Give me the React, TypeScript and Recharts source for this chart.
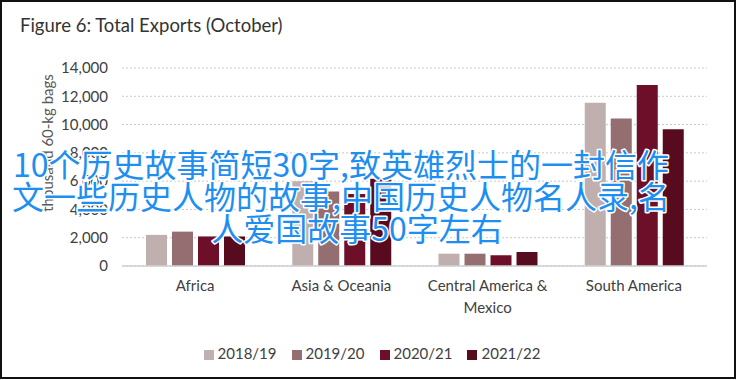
import React from 'react';
import { BarChart, Bar, XAxis, YAxis, CartesianGrid, Legend, Text } from 'recharts';

const categories = ['Africa', 'Asia & Oceania', 'Central America & Mexico', 'South America'];
const seriesNames = ['2018/19', '2019/20', '2020/21', '2021/22'];
const s1819 = [2200, 6000, 870, 11550];
const s1920 = [2430, 5270, 870, 10430];
const s2021 = [2090, 5090, 760, 12790];
const s2122 = [2090, 6170, 990, 9670];
const yTicks = [0, 2000, 4000, 6000, 8000, 10000, 12000, 14000];
const titleText = 'Figure 6: Total Exports (October)';
const yLabelText = 'thousand 60-kg bags';
const overlayLines = [
  '10个历史故事简短30字,致英雄烈士的一封信作',
  '文一些历史人物的故事,中国历史人物名人录,名',
  '人爱国故事50字左右',
];

const colors = ['#BFAFAF', '#946E70', '#6D0F29', '#580B1F'];
const seriesValues = [s1819, s1920, s2021, s2122];

const data = categories.map((c, i) => {
  const row: any = { name: c };
  seriesNames.forEach((s, k) => {
    row[s] = seriesValues[k][i];
  });
  return row;
});

const FONT = 'Lato, "Noto Sans", sans-serif';

const XTick = (props: any) => {
  const { x, y, payload } = props;
  return (
    <Text
      x={x}
      y={y + 6}
      width={135}
      textAnchor="middle"
      verticalAnchor="start"
      lineHeight={22}
      fontSize={15}
      fill="#404040"
      fontFamily={FONT}
    >
      {payload.value}
    </Text>
  );
};

const YLabel = () => {
  const cy = 143;
  const cx = 47;
  return (
    <text
      x={cx}
      y={cy}
      transform={`rotate(-90 ${cx} ${cy})`}
      textAnchor="middle"
      dominantBaseline="central"
      fontSize={15}
      fill="#595959"
      fontFamily={FONT}
    >
      {yLabelText}
    </text>
  );
};

export default function App() {
  return (
    <div
      style={{
        position: 'absolute',
        left: 0,
        top: 0,
        width: 736,
        height: 379,
        boxSizing: 'border-box',
        border: '2px solid #111',
        background: '#fff',
        overflow: 'hidden',
      }}
    >
      <div
        style={{
          position: 'absolute',
          left: 18,
          top: 12,
          fontFamily: FONT,
          fontSize: 18.5,
          color: '#333',
        }}
      >
        {titleText}
      </div>
      <div style={{ position: 'absolute', left: -2, top: -2 }}>
        <BarChart
          width={736}
          height={380}
          data={data}
          margin={{ top: 68, right: 29, bottom: 18, left: 52 }}
          barSize={21}
          barGap={5}
        >
          <CartesianGrid vertical={false} stroke="#C8C8C8" strokeDasharray="2 2" />
          <XAxis
            dataKey="name"
            tick={<XTick />}
            tickLine={false}
            axisLine={{ stroke: '#D0D0D0', strokeWidth: 1.5 }}
            height={78}
            interval={0}
          />
          <YAxis
            ticks={yTicks}
            domain={[0, 14000]}
            width={70}
            tickLine={false}
            axisLine={false}
            tickMargin={8}
            tickFormatter={(v: number) => v.toLocaleString('en-US')}
            tick={{ fontSize: 15, fill: '#404040', fontFamily: FONT }}
            label={<YLabel />}
          />
          <Legend
            verticalAlign="bottom"
            iconType="square"
            iconSize={10}
            wrapperStyle={{ fontFamily: FONT, fontSize: 15 }}
            formatter={(value: string) => (
              <span style={{ color: '#404040', marginRight: 5 }}>{value}</span>
            )}
          />
          {seriesNames.map((s, k) => (
            <Bar key={s} dataKey={s} fill={colors[k]} isAnimationActive={false} />
          ))}
        </BarChart>
      </div>
      <svg
        width={736}
        height={380}
        style={{ position: 'absolute', left: -2, top: -2, pointerEvents: 'none' }}
      >
        {overlayLines.map((line, i) => (
          <text
            key={i}
            x={i === 2 ? 357 : 341}
            y={177 + i * 32}
            textAnchor="middle"
            fontSize={32}
            fontFamily='"Noto Sans CJK SC", sans-serif'
            fill="#1E8FF0"
            stroke="#fff"
            strokeWidth={3}
            paintOrder="stroke"
            strokeLinejoin="round"
          >
            {line}
          </text>
        ))}
      </svg>
    </div>
  );
}
